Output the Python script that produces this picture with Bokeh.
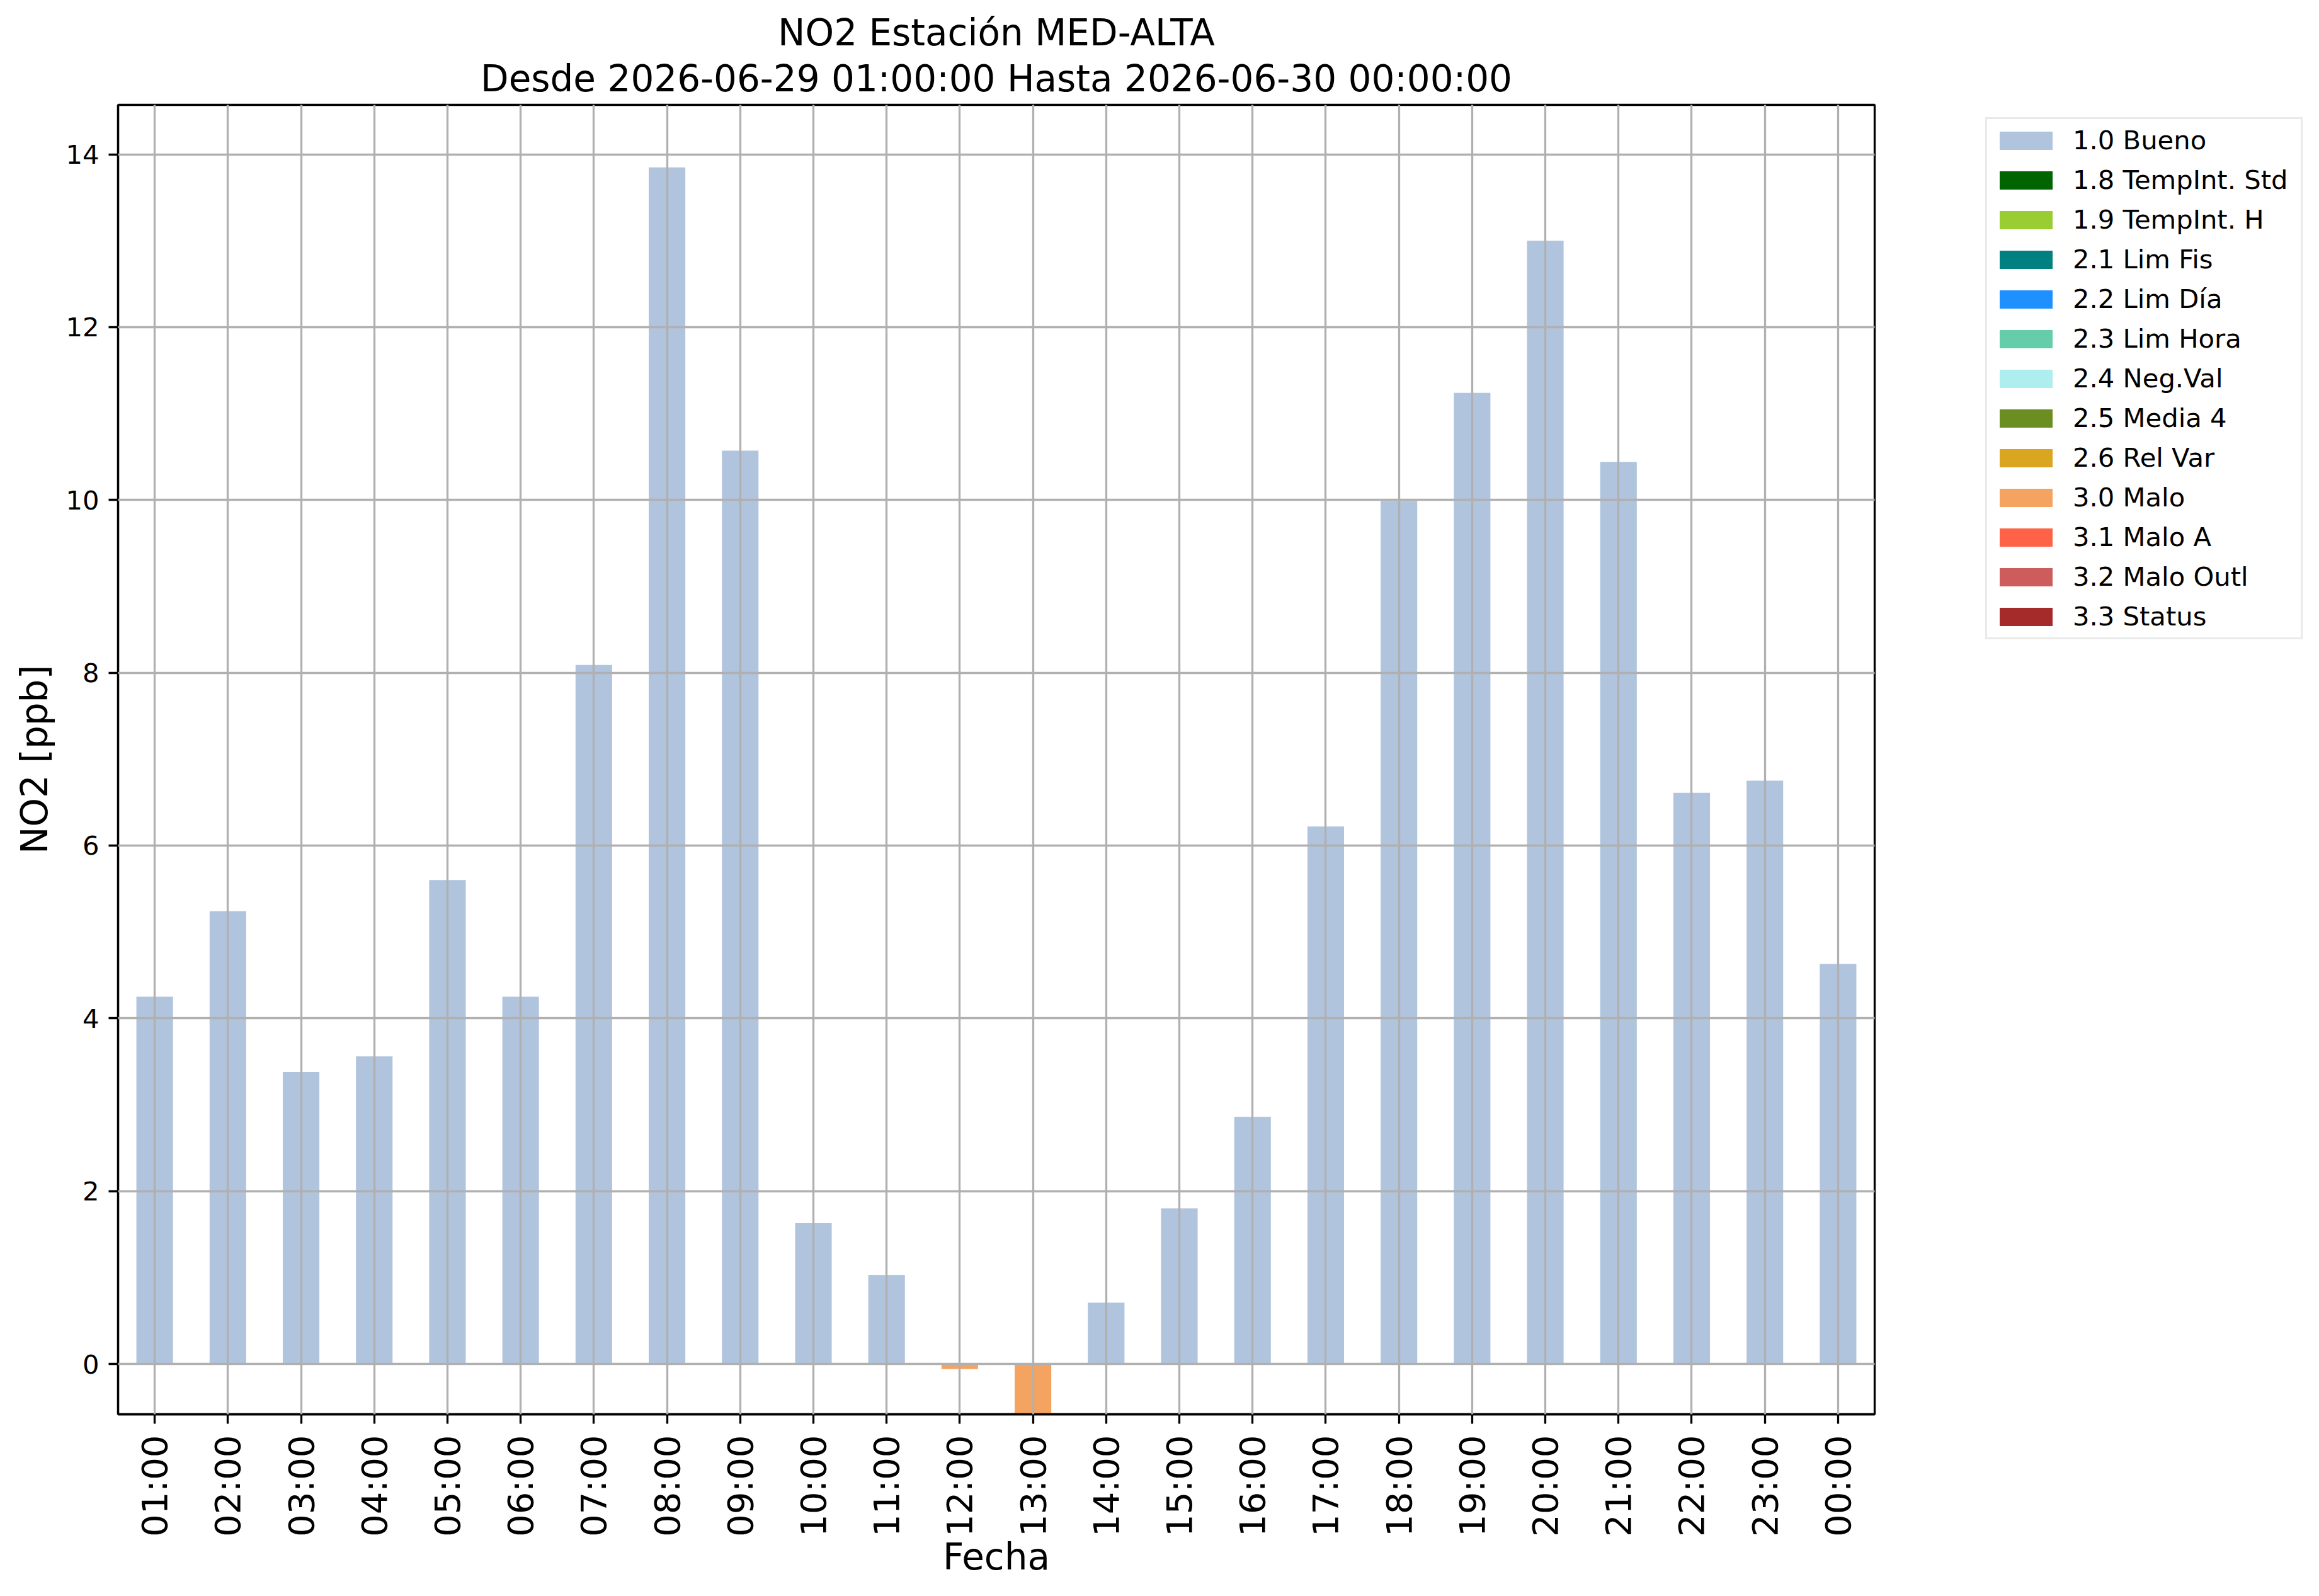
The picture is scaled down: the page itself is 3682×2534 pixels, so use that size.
import math
from bokeh.plotting import figure
from bokeh.models import (ColumnDataSource, FactorRange, Range1d, Legend, LegendItem,
                          Title, SingleIntervalTicker)
from bokeh.embed import file_html
from bokeh.resources import INLINE

# ---------------- data ----------------
hours = ["01:00", "02:00", "03:00", "04:00", "05:00", "06:00", "07:00", "08:00",
         "09:00", "10:00", "11:00", "12:00", "13:00", "14:00", "15:00", "16:00",
         "17:00", "18:00", "19:00", "20:00", "21:00", "22:00", "23:00", "00:00"]

bueno = [4.25, 5.24, 3.38, 3.56, 5.60, 4.25, 8.09, 13.85, 10.57, 1.63, 1.03, None,
         None, 0.71, 1.80, 2.86, 6.22, 9.99, 11.24, 13.00, 10.44, 6.61, 6.75, 4.63]

malo = [None, None, None, None, None, None, None, None, None, None, None, -0.06,
        -0.60, None, None, None, None, None, None, None, None, None, None, None]

flag_labels = ["1.0 Bueno", "1.8 TempInt. Std", "1.9 TempInt. H", "2.1 Lim Fis",
               "2.2 Lim Día", "2.3 Lim Hora", "2.4 Neg.Val", "2.5 Media 4",
               "2.6 Rel Var", "3.0 Malo", "3.1 Malo A", "3.2 Malo Outl", "3.3 Status"]

flag_colors = ["#B0C4DE", "#006400", "#9ACD32", "#008080", "#1E90FF", "#66CDAA",
               "#AFEEEE", "#6B8E23", "#DAA520", "#F4A460", "#FF6347", "#CD5C5C",
               "#A52A2A"]

series = {"1.0 Bueno": bueno, "3.0 Malo": malo}

title_main = "NO2 Estación MED-ALTA"
title_sub = "Desde 2026-06-29 01:00:00 Hasta 2026-06-30 00:00:00"
x_label = "Fecha"
y_label = "NO2 [ppb]"
y_limits = (-0.583, 14.573)

FONT = "DejaVu Sans"
LW = 3.3

# ---------------- figure ----------------
p = figure(x_range=FactorRange(factors=hours), y_range=Range1d(*y_limits),
           frame_width=2789, frame_height=2079,
           min_border_left=187, min_border_top=166,
           min_border_right=690, min_border_bottom=280,
           output_backend="svg", toolbar_location=None, title=None)

p.background_fill_color = "white"
p.border_fill_color = "white"
p.outline_line_color = "black"
p.outline_line_width = LW

sub = Title(text=title_sub, align="center", text_font=FONT, text_font_size="58px",
            text_font_style="normal", text_color="black", standoff=15)
main = Title(text=title_main, align="center", text_font=FONT, text_font_size="58px",
             text_font_style="normal", text_color="black", standoff=-9)
p.add_layout(sub, "above")
p.add_layout(main, "above")

# bars (series without data are kept as empty (NaN) columns, as in the source table)
items = []
for lab, col in zip(flag_labels, flag_colors):
    vals = series.get(lab, [None] * len(hours))
    ts = [float("nan") if v is None else v for v in vals]
    src = ColumnDataSource(dict(x=hours, top=ts))
    r = p.vbar(x="x", top="top", bottom=0, width=0.5, source=src,
               fill_color=col, line_color=None)
    items.append(LegendItem(label=lab, renderers=[r]))

legend = Legend(items=items, location=(176, 1230),
                glyph_width=105, glyph_height=36, label_height=29, label_width=353,
                label_standoff=22, spacing=14, padding=9, margin=0,
                label_text_font=FONT, label_text_font_size="41.7px",
                label_text_color="black",
                border_line_color="#d6d6d6", border_line_width=3,
                background_fill_color="white", background_fill_alpha=1.0)
p.add_layout(legend, "right")

# axes
yt = SingleIntervalTicker(interval=2, num_minor_ticks=0)
p.yaxis.ticker = yt
p.ygrid.ticker = yt

for ax in (p.xaxis, p.yaxis):
    ax.axis_line_color = "black"
    ax.axis_line_width = LW
    ax.major_tick_line_color = "black"
    ax.major_tick_line_width = LW
    ax.major_tick_out = 15
    ax.major_tick_in = 0
    ax.minor_tick_line_color = None
    ax.major_label_text_font = FONT
    ax.major_label_text_color = "black"
    ax.axis_label_text_font = FONT
    ax.axis_label_text_font_size = "58px"
    ax.axis_label_text_font_style = "normal"
    ax.axis_label_text_color = "black"

p.xaxis.axis_label = x_label
p.yaxis.axis_label = y_label
p.xaxis.major_label_orientation = math.pi / 2
p.xaxis.major_label_text_font_size = "56px"
p.yaxis.major_label_text_font_size = "41.7px"
p.xaxis.major_label_standoff = 18
p.yaxis.major_label_standoff = 15
p.xaxis.axis_label_standoff = -5
p.yaxis.axis_label_standoff = 12

for g in (p.xgrid, p.ygrid):
    g.grid_line_color = "#b0b0b0"
    g.grid_line_width = LW
    g.level = "overlay"

open("out.html", "w").write(file_html(p, INLINE))
